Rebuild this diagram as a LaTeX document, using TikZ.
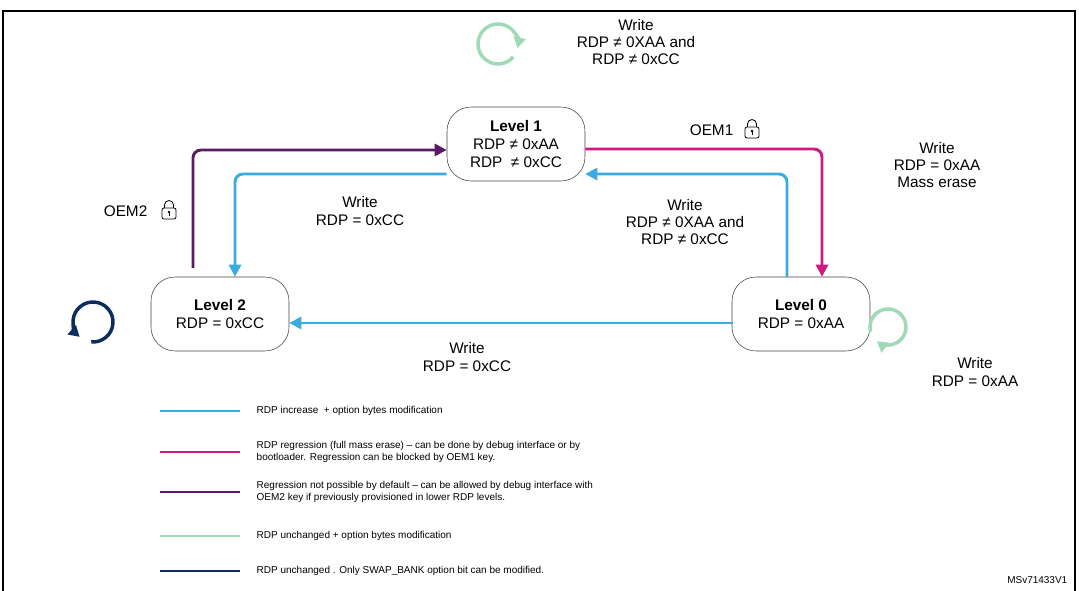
\documentclass[tikz,border=0pt]{standalone}
\usepackage{fontspec}
\setmainfont{Liberation Sans}
\usetikzlibrary{arrows.meta}
\definecolor{cblue}{HTML}{3AAAE0}
\definecolor{cmag}{HTML}{D0197F}
\definecolor{cpur}{HTML}{5A1A68}
\definecolor{cgreen}{HTML}{9FD9B6}
\definecolor{cnavy}{HTML}{0C2D5E}
\begin{document}
\begin{tikzpicture}[x=0.75pt,y=-0.75pt,
  st/.style={draw=black!75,rounded corners=18pt,minimum width=138*0.75pt,minimum height=74*0.75pt,align=center,font=\fontsize{11.5}{13.5}\selectfont,fill=white},
  lab/.style={align=center,font=\fontsize{11.5}{13}\selectfont},
  ar/.style={line width=2.2pt,rounded corners=6pt,-{Triangle[length=9pt,width=9pt]}},
  lp/.style={line width=2.6pt,-{Triangle[length=8pt,width=9pt]}},
  leg/.style={anchor=west,align=left,font=\fontsize{7.5}{9}\selectfont},
  lock/.pic={\draw[line width=0.6pt,rounded corners=1.5pt] (-7,0) rectangle (7,11);
             \draw[line width=0.6pt] (-4.5,0) -- (-4.5,-3) arc(180:360:4.5) -- (4.5,0);
             \fill (0,4) circle (1.3); \draw[line width=0.7pt](0,4)--(0,8);}]
\useasboundingbox (0,0) rectangle (1079,591);
\draw[line width=1pt] (3,11) rectangle (1075,592);
\node (L1) [st] at (516,144) {\textbf{Level 1}\\RDP ≠ 0xAA\\RDP~ ≠ 0xCC};
\node (L2) [st] at (220,314) {\textbf{Level 2}\\RDP = 0xCC};
\node (L0) [st] at (801,314) {\textbf{Level 0}\\RDP = 0xAA};
\coordinate (p1) at (193,150);
\draw[ar,cpur] (193,268) -- (p1) -- (L1.west |- p1);
\coordinate (b1) at (235,174);
\draw[ar,cblue] (L1.west |- b1) -- (b1) -- (L2.north -| b1);
\coordinate (m1) at (822,149);
\draw[ar,cmag] (L1.east |- m1) -- (m1) -- (L0.north -| m1);
\coordinate (b2) at (787,174);
\draw[ar,cblue] (L0.north -| b2) -- (b2) -- (L1.east |- b2);
\coordinate (b3) at (733,323);
\draw[ar,cblue] (b3) -- (L2.east |- b3);
% loops
\draw[cgreen,lp] (498,44) ++(40:20) arc(40:372:20);
\draw[cgreen,lp] (888,327) ++(-195:18) arc(-195:128:18);
\draw[cnavy,lp] (93,322) ++(95:20) arc(95:-228:20);
% labels
\node (t1) [lab] at (636,42) {Write\\RDP ≠ 0XAA and\\RDP ≠ 0xCC};
\node (t2) [lab] at (360,211) {Write\\RDP = 0xCC};
\node (t3) [lab] at (937,165) {Write\\RDP = 0xAA\\Mass erase};
\node (t4) [lab] at (685,222) {Write\\RDP ≠ 0XAA and\\RDP ≠ 0xCC};
\node (t5) [lab] at (467,357) {Write\\RDP = 0xCC};
\node (t6) [lab] at (975,372) {Write\\RDP = 0xAA};
\node (o2) [lab,anchor=east] at (152,211) {OEM2};
\pic at (169,208) {lock};
\node (o1) [lab,anchor=east] at (738,130) {OEM1};
\pic at (752,127) {lock};
% legend
\foreach \y/\c in {411/cblue,452/cmag,492/cpur,536/cgreen,571/cnavy}
  \draw[\c,line width=2.2pt] (160,\y) -- (240,\y);
\node[leg] at (252,411) {RDP increase~ + option bytes modification};
\node[leg] at (252,452) {RDP regression (full mass erase) – can be done by debug interface or by\\bootloader. Regression can be blocked by OEM1 key.};
\node[leg] at (252,492) {Regression not possible by default – can be allowed by debug interface with\\OEM2 key if previously provisioned in lower RDP levels.};
\node[leg] at (252,536) {RDP unchanged + option bytes modification};
\node[leg] at (252,571) {RDP unchanged . Only SWAP\_BANK option bit can be modified.};
\node[anchor=east,font=\fontsize{7.5}{9}\selectfont] at (1072,580) {MSv71433V1};
\end{tikzpicture}
\end{document}
